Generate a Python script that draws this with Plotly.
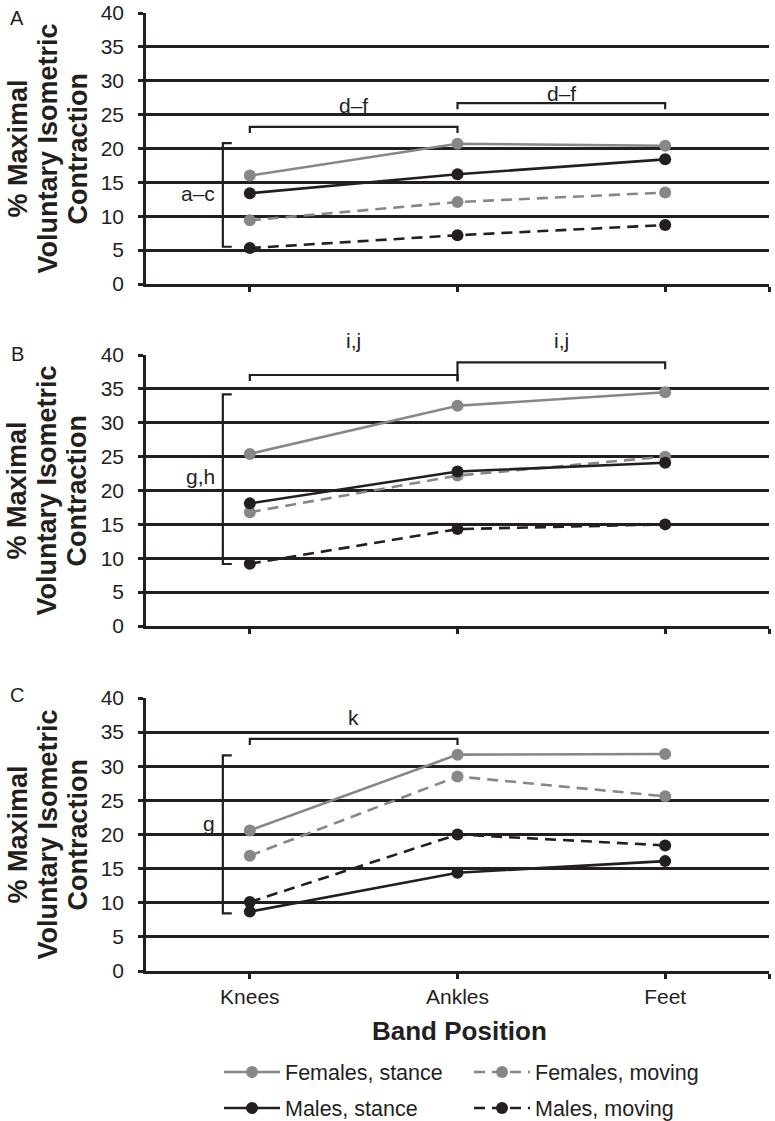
import plotly.graph_objects as go

W, H = 775, 1121

# ---------------- data ----------------
categories = ["Knees", "Ankles", "Feet"]
series_names = ["Females, stance", "Females, moving", "Males, stance", "Males, moving"]

A_female_stance = [16.0, 20.7, 20.4]
A_female_moving = [9.4, 12.1, 13.5]
A_male_stance = [13.4, 16.2, 18.4]
A_male_moving = [5.3, 7.2, 8.7]

B_female_stance = [25.4, 32.5, 34.5]
B_female_moving = [16.8, 22.2, 25.0]
B_male_stance = [18.1, 22.8, 24.1]
B_male_moving = [9.2, 14.3, 15.0]

C_female_stance = [20.6, 31.7, 31.8]
C_female_moving = [16.9, 28.5, 25.6]
C_male_stance = [8.7, 14.4, 16.1]
C_male_moving = [10.1, 20.0, 18.4]

panel_letters = ["A", "B", "C"]
y_ticks = [0, 5, 10, 15, 20, 25, 30, 35, 40]
y_max = 40

# significance brackets: (from category, to category, level, label, label level, left drop, right drop)
A_pair_brackets = [(0, 1, 23.2, "d–f", 26.3, 0.9, 0.9), (1, 2, 26.7, "d–f", 28.1, 0.9, 0.9)]
B_pair_brackets = [(0, 1, 37.05, "i,j", 42.2, 0.9, 0.9), (1, 2, 38.9, "i,j", 42.2, 2.8, 1.0)]
C_pair_brackets = [(0, 1, 34.0, "k", 37.1, 0.9, 0.9)]
# vertical group brackets: (top, bottom, label, label level)
A_group_bracket = (20.8, 5.5, "a–c", 13.35)
B_group_bracket = (34.2, 9.15, "g,h", 22.1)
C_group_bracket = (31.6, 8.45, "g", 21.6)

# ---------------- styling ----------------
GRAY = "#878787"
BLACK = "#231f20"
FONT = "Liberation Sans, Arial, sans-serif"
DASH = "11px,7px"
styles = {
    "Females, stance": dict(color=GRAY, dash="solid"),
    "Females, moving": dict(color=GRAY, dash=DASH),
    "Males, stance": dict(color=BLACK, dash="solid"),
    "Males, moving": dict(color=BLACK, dash=DASH),
}
legend_of = {
    "Females, stance": "legend",
    "Females, moving": "legend",
    "Males, stance": "legend2",
    "Males, moving": "legend2",
}


def px_x(p):
    return p / W


def px_y(p):
    return 1 - p / H


panels = [
    dict(series={"Females, stance": A_female_stance, "Females, moving": A_female_moving,
                 "Males, stance": A_male_stance, "Males, moving": A_male_moving},
         order=["Males, moving", "Females, moving", "Males, stance", "Females, stance"],
         top=13, bottom=284, pairs=A_pair_brackets, group=A_group_bracket, letter_y=18),
    dict(series={"Females, stance": B_female_stance, "Females, moving": B_female_moving,
                 "Males, stance": B_male_stance, "Males, moving": B_male_moving},
         order=["Males, moving", "Females, moving", "Males, stance", "Females, stance"],
         top=355, bottom=626, pairs=B_pair_brackets, group=B_group_bracket, letter_y=354),
    dict(series={"Females, stance": C_female_stance, "Females, moving": C_female_moving,
                 "Males, stance": C_male_stance, "Males, moving": C_male_moving},
         order=["Males, stance", "Males, moving", "Females, moving", "Females, stance"],
         top=698, bottom=971, pairs=C_pair_brackets, group=C_group_bracket, letter_y=695),
]

xs = list(range(len(categories)))
x_left_px, x_right_px = 146, 769

fig = go.Figure()
shapes = []
annotations = []

for i, pnl in enumerate(panels):
    n = i + 1
    xa = "x" if n == 1 else f"x{n}"
    ya = "y" if n == 1 else f"y{n}"
    last = (n == len(panels))
    d0, d1 = px_y(pnl["bottom"]), px_y(pnl["top"])

    def to_paper(v):
        return d0 + (v / y_max) * (d1 - d0)

    for name in pnl["order"]:
        st = styles[name]
        fig.add_trace(go.Scatter(
            x=xs, y=pnl["series"][name], name=name, mode="lines+markers",
            xaxis=xa, yaxis=ya,
            line=dict(color=st["color"], width=2.6, dash=st["dash"]),
            marker=dict(color=st["color"], size=12),
            showlegend=last, legend=legend_of[name],
            legendrank=series_names.index(name) + 1,
            cliponaxis=False,
        ))
    xkey = "xaxis" if n == 1 else f"xaxis{n}"
    ykey = "yaxis" if n == 1 else f"yaxis{n}"
    fig.update_layout(**{
        xkey: dict(
            domain=[px_x(x_left_px), px_x(x_right_px)], anchor=ya,
            range=[-0.5, len(categories) - 0.5],
            tickvals=xs + [len(categories) - 0.5],
            ticktext=categories + [""],
            showticklabels=last,
            ticks="outside", ticklen=5, tickwidth=2.5, tickcolor=BLACK,
            showline=True, linecolor=BLACK, linewidth=2.5,
            showgrid=False, zeroline=False, automargin=False,
            tickfont=dict(family=FONT, size=21, color=BLACK),
            ticklabelstandoff=0,
        ),
        ykey: dict(
            domain=[d0, d1], anchor=xa,
            range=[0, y_max], tickvals=y_ticks,
            ticks="outside", ticklen=5, tickwidth=2.5, tickcolor=BLACK,
            showline=True, linecolor=BLACK, linewidth=2.5,
            showgrid=True, gridcolor=BLACK, gridwidth=2.5, zeroline=False,
            automargin=False,
            tickfont=dict(family=FONT, size=21, color=BLACK),
            ticklabelstandoff=10,
        ),
    })

    # pair brackets
    for (c0, c1, lvl, lab, laby, dl, dr) in pnl["pairs"]:
        shapes.append(dict(
            type="path", xref=xa, yref=ya,
            path=f"M {c0},{lvl - dl} L {c0},{lvl} L {c1},{lvl} L {c1},{lvl - dr}",
            line=dict(color=BLACK, width=2.2),
        ))
        annotations.append(dict(
            x=(c0 + c1) / 2, y=to_paper(laby), xref=xa, yref="paper", text=lab,
            showarrow=False, xanchor="center", yanchor="middle",
            font=dict(family=FONT, size=21, color=BLACK),
        ))
    # group bracket
    gt, gb, glab, gly = pnl["group"]
    bx, sx = -0.13, -0.087
    shapes.append(dict(
        type="path", xref=xa, yref=ya,
        path=f"M {sx},{gt} L {bx},{gt} L {bx},{gb} L {sx},{gb}",
        line=dict(color=BLACK, width=2.2),
    ))
    annotations.append(dict(
        x=bx, y=to_paper(gly), xref=xa, yref="paper", text=glab, showarrow=False,
        xanchor="right", yanchor="middle", xshift=-6,
        font=dict(family=FONT, size=21, color=BLACK),
    ))
    # panel letter
    annotations.append(dict(
        x=px_x(17), y=px_y(pnl["letter_y"]), xref="paper", yref="paper",
        text=panel_letters[i], showarrow=False, xanchor="center", yanchor="middle",
        font=dict(family=FONT, size=20, color=BLACK),
    ))
    # y-axis title lines
    mid = (pnl["top"] + pnl["bottom"]) / 2
    for txt, cx in [("% Maximal", 17), ("Voluntary Isometric", 47), ("Contraction", 77)]:
        annotations.append(dict(
            x=px_x(cx), y=px_y(mid), xref="paper", yref="paper",
            text=f"<b>{txt}</b>", showarrow=False, textangle=-90,
            xanchor="center", yanchor="middle",
            font=dict(family=FONT, size=27, color=BLACK),
        ))

# x-axis title
annotations.append(dict(
    x=px_x(460), y=px_y(1031), xref="paper", yref="paper",
    text="<b>Band Position</b>", showarrow=False, xanchor="center", yanchor="middle",
    font=dict(family=FONT, size=26, color=BLACK),
))

legend_common = dict(
    orientation="h", xanchor="left", yanchor="middle",
    entrywidth=179, entrywidthmode="pixels", itemwidth=56,
    font=dict(family=FONT, size=21.5, color=BLACK),
    bgcolor="rgba(0,0,0,0)", traceorder="normal",
)

fig.update_layout(
    width=W, height=H,
    margin=dict(l=0, r=0, t=0, b=0, autoexpand=False),
    paper_bgcolor="white", plot_bgcolor="white",
    shapes=shapes, annotations=annotations,
    legend=dict(x=px_x(219), y=px_y(1072), **legend_common),
    legend2=dict(x=px_x(219), y=px_y(1108), **legend_common),
    font=dict(family=FONT, color=BLACK),
)

fig.write_html(
    "out.html",
    config={"displayModeBar": False},
    post_script="document.body.style.margin='0px';document.body.style.overflow='hidden';",
)
